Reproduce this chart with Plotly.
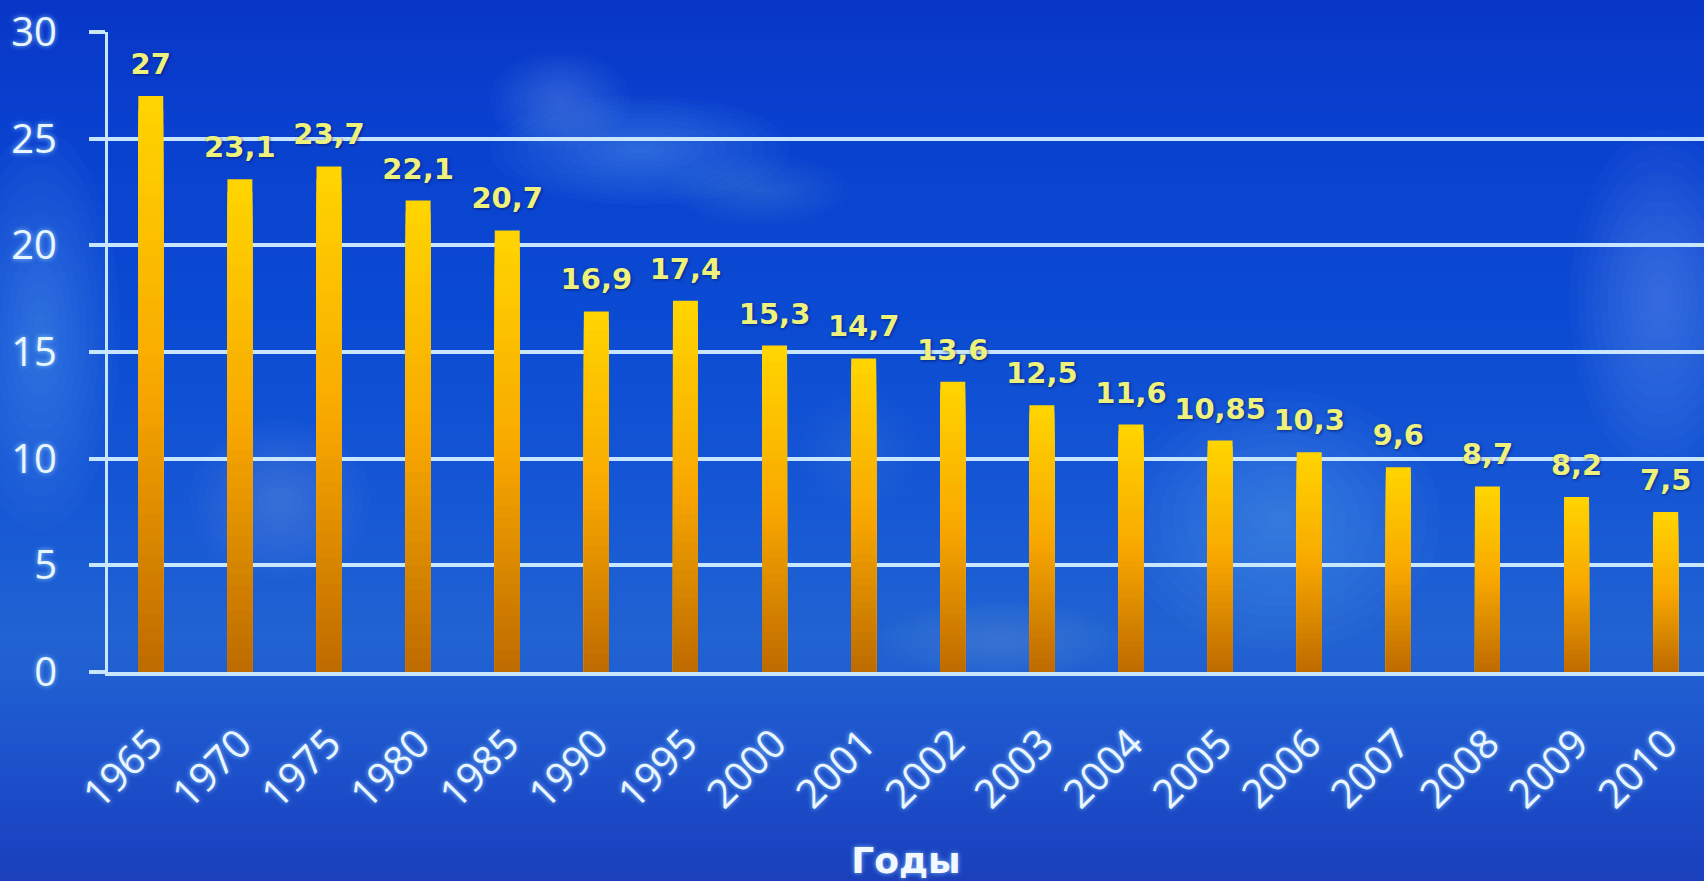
import plotly.graph_objects as go

# Data
years = ["1965", "1970", "1975", "1980", "1985", "1990", "1995", "2000", "2001",
         "2002", "2003", "2004", "2005", "2006", "2007", "2008", "2009", "2010"]
values = [27, 23.1, 23.7, 22.1, 20.7, 16.9, 17.4, 15.3, 14.7,
          13.6, 12.5, 11.6, 10.85, 10.3, 9.6, 8.7, 8.2, 7.5]
y_ticks = [0, 5, 10, 15, 20, 25, 30]
x_title = "Годы"

# Canvas geometry (px)
W, H = 1704, 881
ML, MR, MT, MB = 108, 0, 32, 209
PW, PH = W - ML - MR, H - MT - MB


def px_to_paper(x, y):
    return (x - ML) / PW, (H - MB - y) / PH


def lerp_color(c1, c2, t):
    return tuple(round(a + (b - a) * t) for a, b in zip(c1, c2))


def hex_rgb(h):
    h = h.lstrip("#")
    return tuple(int(h[i:i + 2], 16) for i in (0, 2, 4))


shapes = []

# Vertical blue backdrop built from thin horizontal strips
bg_stops = [(0, "#0836C6"), (120, "#0A40CF"), (320, "#0B4BD3"), (500, "#1657D5"),
            (640, "#2163D2"), (720, "#1E58CF"), (800, "#1B4BC7"), (881, "#1A3FBC")]
n_strips = 110
for i in range(n_strips):
    y0 = H * i / n_strips
    y1 = H * (i + 1) / n_strips + 0.8
    ym = (y0 + y1) / 2
    for (a, ca), (b, cb) in zip(bg_stops[:-1], bg_stops[1:]):
        if a <= ym <= b:
            c = lerp_color(hex_rgb(ca), hex_rgb(cb), (ym - a) / (b - a))
            break
    px0, py0 = px_to_paper(0, y1)
    px1, py1 = px_to_paper(W, y0)
    shapes.append(dict(type="rect", xref="paper", yref="paper", layer="below",
                       x0=px0, x1=px1, y0=py0, y1=py1, line_width=0,
                       fillcolor=f"rgb{c}"))

# Soft light haze patches (cloud-like)
blobs = [
    (640, 150, 150, 55, 0.04), (560, 100, 70, 50, 0.035), (760, 190, 90, 35, 0.03),
    (40, 330, 80, 200, 0.04), (280, 500, 90, 80, 0.035), (1280, 520, 160, 130, 0.04),
    (1660, 300, 90, 170, 0.045), (1000, 640, 120, 40, 0.03), (860, 450, 60, 60, 0.025),
]
for cx, cy, rx, ry, op in blobs:
    for k in range(12):
        f = 1 - k / 12
        ax0, ay0 = px_to_paper(cx - rx * f, cy + ry * f)
        ax1, ay1 = px_to_paper(cx + rx * f, cy - ry * f)
        shapes.append(dict(type="circle", xref="paper", yref="paper", layer="below",
                           x0=ax0, x1=ax1, y0=ay0, y1=ay1, line_width=0,
                           fillcolor=f"rgba(150,205,255,{op * 0.7})"))

fig = go.Figure()

# Bars with a top-to-bottom yellow/orange gradient: overlaid layers of decreasing height
top_c = hex_rgb("#FFD400")
mid_c = hex_rgb("#F8A800")
bot_c = hex_rgb("#BF6C00")
n_layers = 40
for k in range(n_layers):
    t = k / (n_layers - 1)
    if t < 0.5:
        c = lerp_color(top_c, mid_c, t / 0.5)
    else:
        c = lerp_color(mid_c, bot_c, (t - 0.5) / 0.5)
    frac = 1 - k / n_layers
    fig.add_trace(go.Bar(
        x=years, y=[v * frac for v in values], width=0.28,
        marker=dict(color=f"rgb{c}", line_width=0),
        hoverinfo="skip", showlegend=False,
    ))

# Value labels above each bar
labels = [f"{v:g}".replace(".", ",") for v in values]
fig.add_trace(go.Scatter(
    x=years, y=values, mode="markers+text", text=labels,
    textposition="top center",
    marker=dict(size=22, opacity=0),
    textfont=dict(family="DejaVu Sans", size=29, color="#EEF27C", weight="bold",
                  shadow="1px 1px 3px rgba(0,20,90,0.7)"),
    hoverinfo="skip", showlegend=False, cliponaxis=False,
))

tick_font = dict(family="Open Sans", size=40, color="#EAF6FF",
                 shadow="0px 0px 5px rgba(150,210,255,0.9)")
line_c = "rgba(205,235,255,0.97)"

fig.update_layout(
    width=W, height=H,
    margin=dict(l=ML, r=MR, t=MT, b=MB, pad=0),
    paper_bgcolor="#1444C8", plot_bgcolor="rgba(0,0,0,0)",
    barmode="overlay",
    shapes=shapes,
    xaxis=dict(
        type="category", range=[-0.48, 17.43],
        showgrid=False, showline=True, linecolor=line_c, linewidth=4,
        ticks="", tickangle=-45, tickfont=tick_font, ticklabelstandoff=28,
        title=dict(text=x_title, standoff=31,
                   font=dict(family="DejaVu Sans", size=36, color="#F2F8FF",
                             weight="bold",
                             shadow="0px 0px 5px rgba(150,210,255,0.8)")),
        fixedrange=True,
    ),
    yaxis=dict(
        range=[0, 30], tickvals=y_ticks, showgrid=True,
        gridcolor=line_c, gridwidth=4,
        showline=True, linecolor=line_c, linewidth=3,
        ticks="outside", ticklen=16, tickwidth=4, tickcolor=line_c,
        tickfont=tick_font, ticklabelstandoff=24,
        zeroline=False, fixedrange=True,
    ),
)

fig.write_html("out.html")
